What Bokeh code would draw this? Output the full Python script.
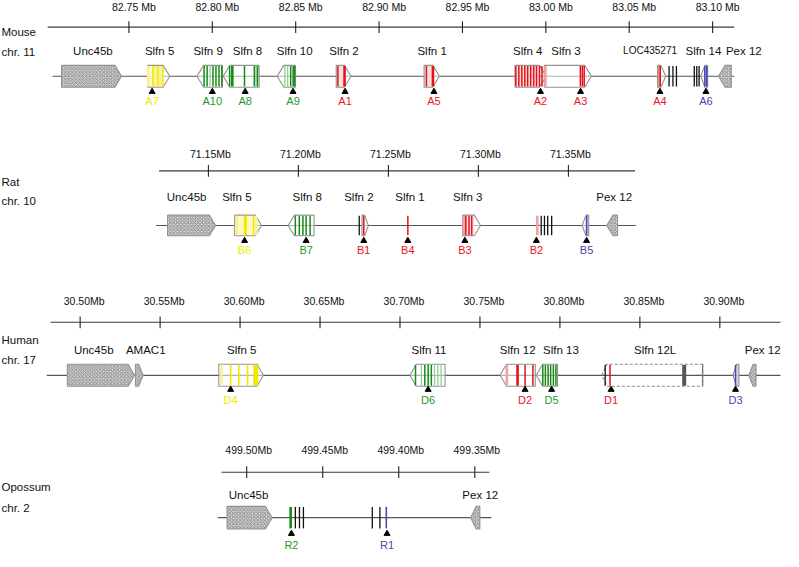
from bokeh.plotting import figure
from bokeh.models import Range1d
from bokeh.embed import file_html
from bokeh.resources import INLINE
from bokeh.core.properties import value

FONT = value("Liberation Sans")

# ======================= DATA (positions in Mb) =======================
# ---- Mouse chr. 11 ----
mouse_ticks = [82.75, 82.80, 82.85, 82.90, 82.95, 83.00, 83.05, 83.10]
mouse_tick_labels = ["82.75 Mb", "82.80 Mb", "82.85 Mb", "82.90 Mb", "82.95 Mb", "83.00 Mb", "83.05 Mb", "83.10 Mb"]
mouse_scale_extent = [82.7013, 83.1130]
mouse_track_extent = [82.7043, 83.1130]
mouse_gene_names = ["Unc45b", "Slfn 5", "Slfn 9", "Slfn 8", "Slfn 10", "Slfn 2", "Slfn 1", "Slfn 4", "Slfn 3",
                    "LOC435271", "Slfn 14", "Pex 12"]
mouse_gene_name_pos = [82.7284, 82.7684, 82.7975, 82.8211, 82.8494, 82.8790, 82.9318, 82.9891, 83.0121,
                       83.0625, 83.0945, 83.1187]
mouse_shape_tail = [82.7096, 82.7613, 82.8061, 82.8281, 82.8498, 82.8743, 82.9270, 82.9815, 82.9991,
                    83.0670, 83.0970, 83.1112]
mouse_shape_tip = [82.7456, 82.7745, 82.7908, 82.8065, 82.8389, 82.8832, 82.9362, 83.0002, 83.0273,
                   83.0719, 83.0929, 83.1035]
mouse_shape_kind = ["hatch", "yellow", "plain", "plain", "plain", "pink", "pink", "pink", "plain",
                    "red", "blue", "hatch"]
mouse_exon_pos = [82.7615, 82.7644, 82.7659, 82.7674, 82.7689, 82.7703,
                  82.7951, 82.7969, 82.7987, 82.8004, 82.8022, 82.8040, 82.8057,
                  82.8104, 82.8120, 82.8193, 82.8252, 82.8262, 82.8271,
                  82.8435, 82.8452, 82.8470, 82.8485, 82.8494,
                  82.8753, 82.8793,
                  82.9284, 82.9323,
                  82.9820, 82.9838, 82.9856, 82.9874, 82.9891, 82.9909, 82.9927, 82.9944, 82.9962, 82.9977,
                  82.9997, 83.0207, 83.0219, 83.0230,
                  83.0686, 83.0739, 83.0762, 83.0783,
                  83.0890, 83.0905, 83.0919, 83.0953, 83.0965]
mouse_exon_kind = ["y", "Y", "y", "Y", "y", "Y",
                   "G", "G", "g", "G", "G", "G", "G",
                   "G", "GG", "G", "G", "g", "G",
                   "g", "g", "G", "G", "G",
                   "R", "RR",
                   "R", "RR",
                   "R", "R", "R", "R", "R", "R", "R", "R", "R", "R",
                   "r", "R", "R", "R",
                   "R", "K", "K", "K",
                   "K", "K", "K", "B", "B"]
mouse_site_pos = [82.7639, 82.8000, 82.8197, 82.8484, 82.8796, 82.9329, 82.9968, 83.0208, 83.0684, 83.0960]
mouse_site_labels = ["A7", "A10", "A8", "A9", "A1", "A5", "A2", "A3", "A4", "A6"]
mouse_site_group = ["y", "g", "g", "g", "r", "r", "r", "r", "r", "b"]

# ---- Rat chr. 10 ----
rat_ticks = [71.15, 71.20, 71.25, 71.30, 71.35]
rat_tick_labels = ["71.15Mb", "71.20Mb", "71.25Mb", "71.30Mb", "71.35Mb"]
rat_scale_extent = [71.1226, 71.3870]
rat_track_extent = [71.1209, 71.3875]
rat_gene_names = ["Unc45b", "Slfn 5", "Slfn 8", "Slfn 2", "Slfn 1", "Slfn 3", "Pex 12"]
rat_gene_name_pos = [71.1379, 71.1658, 71.2049, 71.2336, 71.2620, 71.2941, 71.3754]
rat_shape_tail = [71.1273, 71.1646, 71.2087, 71.2353, 71.2912, 71.3613, 71.3773]
rat_shape_tip = [71.1540, 71.1795, 71.1943, 71.2389, 71.3012, 71.3576, 71.3713]
rat_shape_kind = ["hatch", "yellow", "plain", "pink", "pink", "blue", "hatch"]
rat_exon_pos = [71.1657, 71.1705, 71.1751, 71.1766,
                71.1983, 71.2005, 71.2025, 71.2043, 71.2065,
                71.2338, 71.2363,
                71.2608,
                71.2918, 71.2930, 71.2948, 71.2963,
                71.3327, 71.3349, 71.3367, 71.3385, 71.3407,
                71.3601]
rat_exon_kind = ["y", "YY", "Y", "y",
                 "G", "G", "G", "G", "G",
                 "K", "R",
                 "R",
                 "r", "R", "R", "R",
                 "r", "K", "K", "K", "K",
                 "B"]
rat_site_pos = [71.1701, 71.2043, 71.2363, 71.2608, 71.2925, 71.3322, 71.3601]
rat_site_labels = ["B6", "B7", "B1", "B4", "B3", "B2", "B5"]
rat_site_group = ["y", "g", "r", "r", "r", "r", "b"]

# ---- Human chr. 17 ----
human_ticks = [30.50, 30.55, 30.60, 30.65, 30.70, 30.75, 30.80, 30.85, 30.90]
human_tick_labels = ["30.50Mb", "30.55Mb", "30.60Mb", "30.65Mb", "30.70Mb", "30.75Mb", "30.80Mb", "30.85Mb", "30.90Mb"]
human_scale_extent = [30.4815, 30.9379]
human_track_extent = [30.4791, 30.9379]
human_gene_names = ["Unc45b", "AMAC1", "Slfn 5", "Slfn 11", "Slfn 12", "Slfn 13", "Slfn 12L", "Pex 12"]
human_gene_name_pos = [30.5085, 30.5410, 30.6010, 30.7181, 30.7736, 30.8006, 30.8595, 30.9268]
human_shape_tail = [30.4920, 30.5346, 30.5867, 30.7282, 30.7846, 30.7985, 30.8893, 30.9119, 30.9226]
human_shape_tip = [30.5340, 30.5394, 30.6146, 30.7062, 30.7626, 30.7852, 30.8262, 30.9082, 30.9181]
human_shape_kind = ["hatch", "hatch", "plain", "plain", "plain", "plain", "dashed", "blue", "hatch"]
human_exon_pos = [30.5884, 30.5941, 30.5992, 30.6047, 30.6098,
                  30.7097, 30.7134, 30.7155, 30.7176, 30.7196, 30.7216, 30.7237, 30.7257,
                  30.7668, 30.7735, 30.7782, 30.7831,
                  30.7893, 30.7909, 30.7926, 30.7942, 30.7959, 30.7975,
                  30.8283, 30.8313, 30.8777, 30.8892,
                  30.9098]
human_exon_kind = ["y", "Y", "Y", "Y", "YYY",
                   "G", "g", "G", "G", "G", "g", "g", "g",
                   "r", "RR", "R", "R",
                   "G", "G", "G", "G", "G", "G",
                   "K", "R", "D", "k",
                   "B"]
human_site_pos = [30.5941, 30.7176, 30.7782, 30.7948, 30.8320, 30.9098]
human_site_labels = ["D4", "D6", "D2", "D5", "D1", "D3"]
human_site_group = ["y", "g", "r", "g", "r", "b"]

# ---- Opossum chr. 2 (coordinates decrease to the right) ----
opossum_ticks = [499.50, 499.45, 499.40, 499.35]
opossum_tick_labels = ["499.50Mb", "499.45Mb", "499.40Mb", "499.35Mb"]
opossum_scale_extent = [499.5166, 499.3404]
opossum_track_extent = [499.5191, 499.3391]
opossum_gene_names = ["Unc45b", "Pex 12"]
opossum_gene_name_pos = [499.4988, 499.3464]
opossum_shape_tail = [499.5129, 499.3467]
opossum_shape_tip = [499.4832, 499.3527]
opossum_shape_kind = ["hatch", "hatch"]
opossum_exon_pos = [499.4711, 499.4680, 499.4653, 499.4627, 499.4174, 499.4124, 499.4082]
opossum_exon_kind = ["GG", "K", "K", "K", "K", "K", "B"]
opossum_site_pos = [499.4706, 499.4077]
opossum_site_labels = ["R2", "R1"]
opossum_site_group = ["g", "b"]

# ======================= STYLE / LAYOUT =======================
EXON_STYLE = {
    "Y": ("#f0e800", 1.6), "y": ("#f6f29a", 2.6), "YY": ("#f0e800", 3.0), "YYY": ("#f0e800", 5.0),
    "G": ("#178a17", 1.5), "g": ("#92d092", 1.3), "GG": ("#178a17", 2.6),
    "R": ("#e3121b", 1.5), "r": ("#f2a0a0", 2.6), "RR": ("#e3121b", 2.6),
    "K": ("#111111", 1.3), "k": ("#777777", 1.3), "B": ("#4a4ab0", 1.6), "D": ("#555555", 4.0),
}
SITE_COLOR = {"y": "#ecec00", "g": "#1f9a1f", "r": "#e8141c", "b": "#4646a6"}
BOX_FILL = {"yellow": "#fff9b8", "pink": "#fbdada", "red": "#f07a7a", "blue": "#c8c8ee", "plain": "#ffffff"}
OUTLINE = "#939393"

p = figure(width=783, height=551, x_range=Range1d(2, 798), y_range=Range1d(566, 1),
           output_backend="svg", toolbar_location=None, min_border=0,
           x_axis_type=None, y_axis_type=None)
p.outline_line_color = None
p.background_fill_color = "white"
p.extra_x_ranges = {
    "mouse": Range1d(82.6730, 83.1425),
    "rat": Range1d(71.0345, 71.4695),
    "human": Range1d(30.4502, 30.9398),
    "opossum": Range1d(499.6619, 499.1470),
}

LAYOUT = {
    "mouse":   dict(axis=28.3, ticklab=7.3, name=52.3, gene=78.7, tri=94.5, lab=104.5, sp1=33.3, sp2=53.3,
                    head=0.0040, tick_dx=5, half=11.2),
    "rat":     dict(axis=175.7, ticklab=158.3, name=202.3, gene=231.7, tri=247.3, lab=256.7, sp1=186.7, sp2=206.7,
                    head=0.0035, tick_dx=2, half=10.6),
    "human":   dict(axis=331.0, ticklab=309.3, name=359.3, gene=385.3, tri=400.0, lab=411.0, sp1=349.3, sp2=370.0,
                    head=0.0040, tick_dx=4, half=11.3),
    "opossum": dict(axis=484.7, ticklab=461.7, name=507.7, gene=531.3, tri=547.7, lab=559.3, sp1=500.0, sp2=521.0,
                    head=0.0045, tick_dx=2, half=11.6),
}


def pentagon(tail, tip, head, y, h):
    d = 1.0 if tip > tail else -1.0
    hl = min(head, 0.6 * abs(tip - tail))
    neck = tip - d * hl
    return [tail, neck, tip, neck, tail], [y - h, y - h, y, y + h, y + h], neck


def draw_species(rn, sp_name, sp_chr, ticks, tick_labels, scale_ext, track_ext,
                 gene_names, gene_name_pos, tails, tips, kinds,
                 exon_pos, exon_kind, site_pos, site_labels, site_group):
    L = LAYOUT[rn]
    y = L["gene"]
    h = L["half"]
    # species label
    p.text(x=[3, 3], y=[L["sp1"], L["sp2"]], text=[sp_name, sp_chr], text_align="left",
           text_baseline="middle", text_font=FONT, text_font_size="11.5px", text_color="#111111")
    # scale bar
    p.segment(x0=[scale_ext[0]], y0=[L["axis"]], x1=[scale_ext[1]], y1=[L["axis"]],
              line_color="#3a3a3a", line_width=1.1, x_range_name=rn)
    n = len(ticks)
    p.segment(x0=ticks, y0=[L["axis"] - 6] * n, x1=ticks, y1=[L["axis"] + 6] * n,
              line_color="#222222", line_width=1.1, x_range_name=rn)
    p.text(x=ticks, y=[L["ticklab"]] * n, text=tick_labels, x_offset=L["tick_dx"],
           text_align="center", text_baseline="middle", text_font=FONT, text_font_size="10.5px",
           text_color="#111111", x_range_name=rn)
    # chromosome track
    p.segment(x0=[track_ext[0]], y0=[y], x1=[track_ext[1]], y1=[y],
              line_color="#555555", line_width=1.2, x_range_name=rn)
    # gene shapes
    hx, hy, wx, wy, dx, dy = [], [], [], [], [], []
    ql, qr, qc = [], [], []
    for t, tp, k in zip(tails, tips, kinds):
        xs, ys, neck = pentagon(t, tp, L["head"], y, h)
        if k == "hatch":
            hx.append(xs); hy.append(ys)
        elif k == "dashed":
            xs2, ys2, _ = pentagon(t, tp, L["head"] * 0.8, y, h)
            dx.append(xs2); dy.append(ys2)
        else:
            wx.append(xs); wy.append(ys)
            if k != "plain":
                ql.append(min(t, neck)); qr.append(max(t, neck)); qc.append(BOX_FILL[k])
    if wx:
        p.patches(wx, wy, fill_color="white", fill_alpha=0.55, line_color=None, x_range_name=rn)
    if ql:
        p.quad(left=ql, right=qr, top=[y - h] * len(ql), bottom=[y + h] * len(ql),
               fill_color=qc, fill_alpha=0.85, line_color=None, x_range_name=rn)
    if wx:
        p.patches(wx, wy, fill_alpha=0, line_color=OUTLINE, line_width=1.1, x_range_name=rn)
    if hx:
        p.patches(hx, hy, fill_color="#d2d2d2", hatch_pattern="diagonal_cross", hatch_color="#6a6a6a",
                  hatch_scale=3.5, hatch_weight=0.7, line_color=OUTLINE, line_width=1.1, x_range_name=rn)
    if dx:
        p.patches(dx, dy, fill_alpha=0, line_color="#8a8a8a", line_width=1.1, line_dash="3 2",
                  x_range_name=rn)
    # exons
    m = len(exon_pos)
    p.segment(x0=exon_pos, y0=[y - h + 0.6] * m, x1=exon_pos, y1=[y + h - 0.6] * m,
              line_color=[EXON_STYLE[k][0] for k in exon_kind],
              line_width=[EXON_STYLE[k][1] for k in exon_kind], x_range_name=rn)
    # gene names
    big = [(g, gx) for g, gx in zip(gene_names, gene_name_pos) if len(g) <= 8]
    small = [(g, gx) for g, gx in zip(gene_names, gene_name_pos) if len(g) > 8]
    if big:
        p.text(x=[b[1] for b in big], y=[L["name"]] * len(big), text=[b[0] for b in big],
               text_align="center", text_baseline="middle", text_font=FONT, text_font_size="11.5px",
               text_color="#111111", x_range_name=rn)
    if small:
        p.text(x=[b[1] for b in small], y=[L["name"]] * len(small), text=[b[0] for b in small],
               text_align="center", text_baseline="middle", text_font=FONT, text_font_size="10px",
               text_color="#111111", x_range_name=rn)
    # sites
    s = len(site_pos)
    p.scatter(x=site_pos, y=[L["tri"]] * s, marker="triangle", size=6, fill_color="black",
              line_color="black", x_range_name=rn)
    p.text(x=site_pos, y=[L["lab"]] * s, text=site_labels, text_align="center", text_baseline="middle",
           text_font=FONT, text_font_size="11px", text_color=[SITE_COLOR[g] for g in site_group],
           x_range_name=rn)


draw_species("mouse", "Mouse", "chr. 11", mouse_ticks, mouse_tick_labels, mouse_scale_extent, mouse_track_extent,
             mouse_gene_names, mouse_gene_name_pos, mouse_shape_tail, mouse_shape_tip, mouse_shape_kind,
             mouse_exon_pos, mouse_exon_kind, mouse_site_pos, mouse_site_labels, mouse_site_group)
draw_species("rat", "Rat", "chr. 10", rat_ticks, rat_tick_labels, rat_scale_extent, rat_track_extent,
             rat_gene_names, rat_gene_name_pos, rat_shape_tail, rat_shape_tip, rat_shape_kind,
             rat_exon_pos, rat_exon_kind, rat_site_pos, rat_site_labels, rat_site_group)
draw_species("human", "Human", "chr. 17", human_ticks, human_tick_labels, human_scale_extent, human_track_extent,
             human_gene_names, human_gene_name_pos, human_shape_tail, human_shape_tip, human_shape_kind,
             human_exon_pos, human_exon_kind, human_site_pos, human_site_labels, human_site_group)
draw_species("opossum", "Opossum", "chr. 2", opossum_ticks, opossum_tick_labels, opossum_scale_extent,
             opossum_track_extent, opossum_gene_names, opossum_gene_name_pos, opossum_shape_tail,
             opossum_shape_tip, opossum_shape_kind, opossum_exon_pos, opossum_exon_kind,
             opossum_site_pos, opossum_site_labels, opossum_site_group)

open("out.html", "w").write(file_html(p, INLINE))
